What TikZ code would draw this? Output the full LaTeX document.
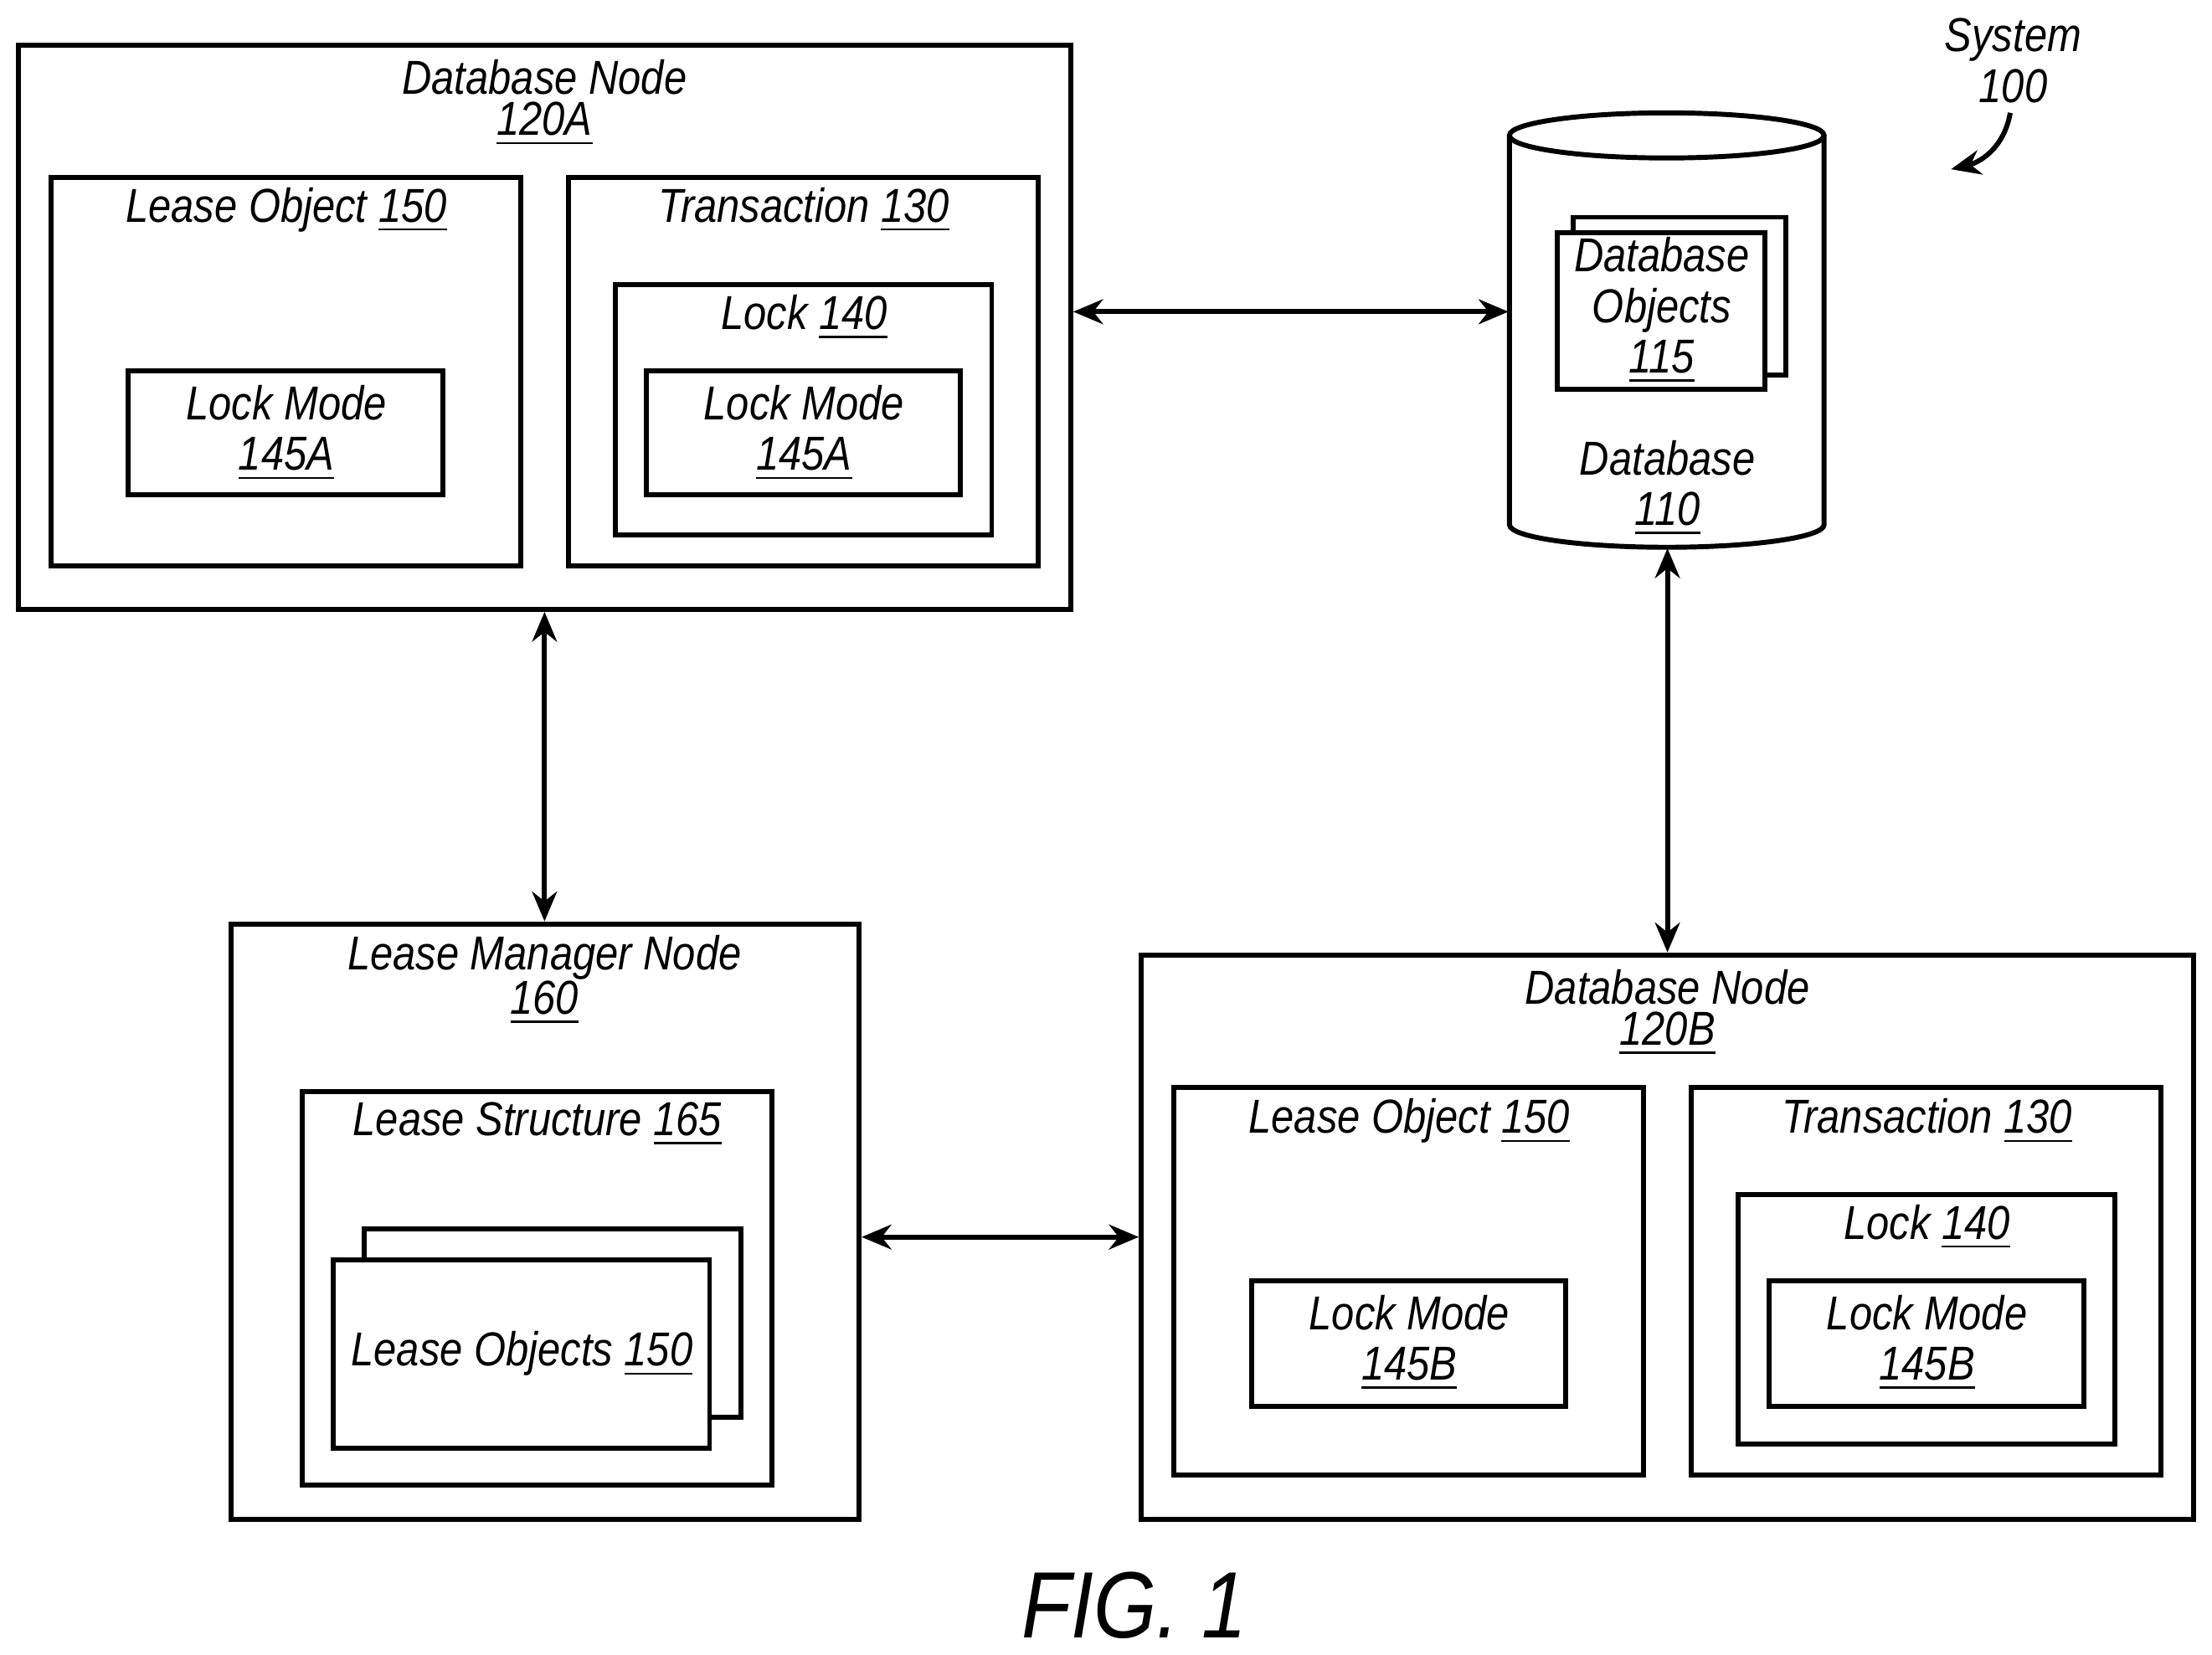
\documentclass[tikz,border=0pt]{standalone}
\usepackage{fontspec}
\setmainfont{Liberation Sans}[FakeStretch=0.86]
\usetikzlibrary{fit,arrows.meta}
\begin{document}
\begin{tikzpicture}[x=0.01cm,y=-0.01cm,
  box/.style={draw,line width=1pt,inner sep=0pt},
  lbl/.style={font=\fontsize{9.6}{11.2}\selectfont\itshape,inner sep=0pt,anchor=center},
  arr/.style={{Stealth[length=6pt,width=5pt]}-{Stealth[length=6pt,width=5pt]},line width=1pt}]
\useasboundingbox (0,0) rectangle (1568,1173);
% Database node 120A
\node[box,fit={(13,32)(759,432)}] (dbA) {};
\node[lbl] (dbAt) at (386,55) {Database Node};
\node[lbl] (dbAn) at (386,88) {\underline{120A}};
\node[box,fit={(36,126)(369,401)}] (loA) {};
\node[lbl] (loAt) at (203,149) {Lease Object \underline{150}};
\node[box,fit={(91,263)(314,351)}] (lmA1) {};
\node[lbl,align=center] (lmA1t) at (203,307) {Lock Mode\\[-1pt]\underline{145A}};
\node[box,fit={(403,126)(736,401)}] (trA) {};
\node[lbl] (trAt) at (570,149) {Transaction \underline{130}};
\node[box,fit={(436,202)(703,379)}] (lkA) {};
\node[lbl] (lkAt) at (570,225) {Lock \underline{140}};
\node[box,fit={(458,263)(681,351)}] (lmA2) {};
\node[lbl,align=center] (lmA2t) at (570,307) {Lock Mode\\[-1pt]\underline{145A}};
% Database cylinder
\node[fit={(1070,80)(1293,388)},inner sep=0pt] (db) {};
\draw[line width=1pt,fill=white] (1070,96) -- (1070,372) arc[start angle=180,end angle=360,x radius=111.5,y radius=-16] -- (1293,96);
\draw[line width=1pt] (1181.5,96) ellipse[x radius=111.5,y radius=16];
\node[box,fill=white,fit={(1115,154)(1266,266)}] (doB) {};
\node[box,fill=white,fit={(1104,165)(1251,276)}] (doF) {};
\node[lbl,align=center] (doT) at (1178,220) {Database\\[-1pt]Objects\\[-1pt]\underline{115}};
\node[lbl,align=center] (dbT) at (1182,346) {Database\\[-1pt]\underline{110}};
% System label
\node[lbl,align=center] (sys) at (1427,43) {System\\[-1pt]100};
\coordinate (sysA) at (1383,120);
\draw[line width=1pt,-{Stealth[length=6pt,width=5pt]}] (1425,80) .. controls (1420,108) and (1400,116) .. (sysA);
% Lease manager node
\node[box,fit={(164,655)(609,1077)}] (lm) {};
\node[lbl] (lmt) at (386,679) {Lease Manager Node};
\node[lbl] (lmn) at (386,711) {\underline{160}};
\node[box,fit={(214,774)(547,1053)}] (ls) {};
\node[lbl] (lst) at (381,797) {Lease Structure \underline{165}};
\node[box,fit={(258,871)(525,1005)}] (lob) {};
\node[box,fill=white,fit={(236,893)(503,1027)}] (lof) {};
\node[lbl] (loft) at (370,960) {Lease Objects \underline{150}};
% Database node 120B
\node[box,fit={(809,677)(1555,1077)}] (dbB) {};
\node[lbl] (dbBt) at (1182,700) {Database Node};
\node[lbl] (dbBn) at (1182,733) {\underline{120B}};
\node[box,fit={(832,771)(1165,1046)}] (loB) {};
\node[lbl] (loBt) at (999,795) {Lease Object \underline{150}};
\node[box,fit={(887,908)(1110,997)}] (lmB1) {};
\node[lbl,align=center] (lmB1t) at (999,952) {Lock Mode\\[-1pt]\underline{145B}};
\node[box,fit={(1199,771)(1532,1046)}] (trB) {};
\node[lbl] (trBt) at (1366,795) {Transaction \underline{130}};
\node[box,fit={(1232,847)(1499,1024)}] (lkB) {};
\node[lbl] (lkBt) at (1366,870) {Lock \underline{140}};
\node[box,fit={(1254,908)(1477,997)}] (lmB2) {};
\node[lbl,align=center] (lmB2t) at (1366,952) {Lock Mode\\[-1pt]\underline{145B}};
% arrows
\draw[arr] (dbA.east |- 0,221) -- (db.west |- 0,221);
\draw[arr] (dbA.south -| 386,0) -- (lm.north -| 386,0);
\draw[arr] (db.south -| 1182,0) -- (dbB.north -| 1182,0);
\draw[arr] (lm.east |- 0,877) -- (dbB.west |- 0,877);
\node[font=\fontsize{19}{22}\selectfont\itshape,inner sep=0pt] (fig) at (804,1138) {FIG. 1};
\end{tikzpicture}
\end{document}
